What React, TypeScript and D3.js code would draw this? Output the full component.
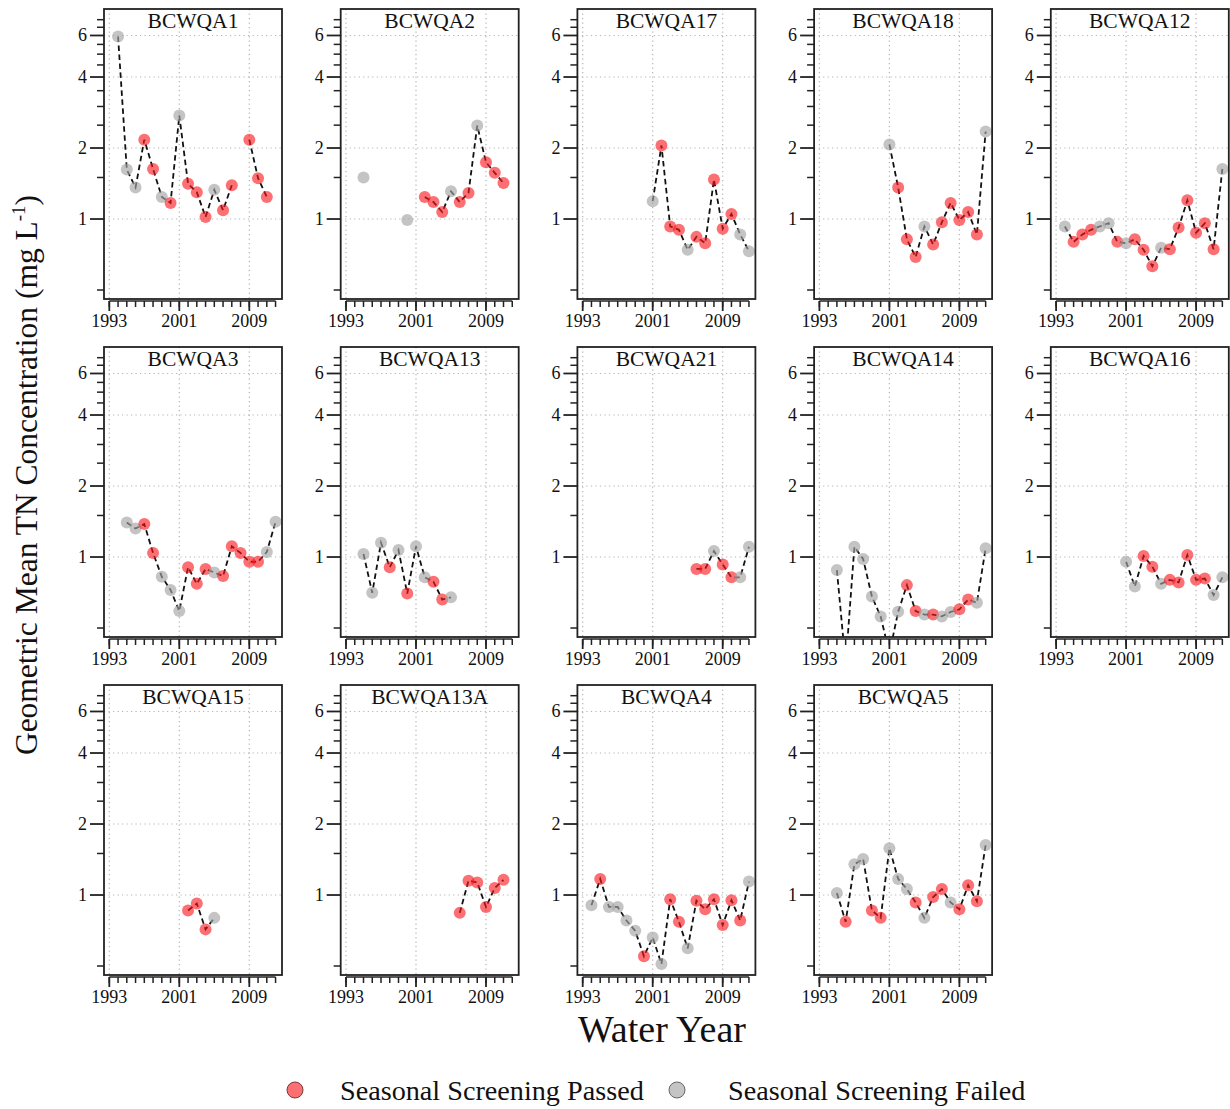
import React from "react";
import * as d3 from "d3";

// ---- data ----
const stations = ["BCWQA1", "BCWQA2", "BCWQA17", "BCWQA18", "BCWQA12", "BCWQA3", "BCWQA13", "BCWQA21", "BCWQA14", "BCWQA16", "BCWQA15", "BCWQA13A", "BCWQA4", "BCWQA5"];
const startYear = [1994, 1995, 2001, 2001, 1994, 1995, 1995, 2006, 1995, 2001, 2002, 2006, 1994, 1995];

const tn_BCWQA1 = [5.94, 1.62, 1.36, 2.17, 1.63, 1.24, 1.17, 2.75, 1.41, 1.30, 1.02, 1.33, 1.09, 1.39, null, 2.17, 1.49, 1.24];
const st_BCWQA1 = "FFFPPFPFPPPFPP-PPP";
const tn_BCWQA2 = [1.50, null, null, null, null, 0.99, null, 1.24, 1.18, 1.07, 1.31, 1.18, 1.29, 2.49, 1.74, 1.57, 1.42];
const st_BCWQA2 = "F----F-PPPFPPFPPP";
const tn_BCWQA17 = [1.19, 2.05, 0.93, 0.90, 0.74, 0.84, 0.79, 1.47, 0.91, 1.05, 0.86, 0.73];
const st_BCWQA17 = "FPPPFPPPPPFF";
const tn_BCWQA18 = [2.07, 1.36, 0.82, 0.69, 0.93, 0.78, 0.97, 1.17, 0.99, 1.07, 0.86, 2.35];
const st_BCWQA18 = "FPPPFPPPPPPF";
const tn_BCWQA12 = [0.93, 0.80, 0.86, 0.90, 0.93, 0.96, 0.80, 0.79, 0.82, 0.74, 0.63, 0.755, 0.745, 0.92, 1.20, 0.875, 0.96, 0.745, 1.63];
const st_BCWQA12 = "FPPPFFPFPPPFPPPPPPF";
const tn_BCWQA3 = [1.40, 1.32, 1.38, 1.04, 0.825, 0.725, 0.59, 0.905, 0.77, 0.89, 0.86, 0.83, 1.11, 1.04, 0.955, 0.955, 1.05, 1.41];
const st_BCWQA3 = "FFPPFFFPPPFPPPPPFF";
const tn_BCWQA13 = [1.03, 0.705, 1.15, 0.905, 1.07, 0.70, 1.11, 0.82, 0.785, 0.66, 0.675];
const st_BCWQA13 = "FFFPFPFFPPF";
const tn_BCWQA21 = [0.89, 0.89, 1.06, 0.93, 0.82, 0.82, 1.105];
const st_BCWQA21 = "PPFPPFF";
const tn_BCWQA14 = [0.88, 0.35, 1.105, 0.98, 0.68, 0.56, 0.39, 0.586, 0.76, 0.59, 0.57, 0.57, 0.56, 0.585, 0.60, 0.66, 0.64, 1.09];
const st_BCWQA14 = "FFFFFFFFPPFPFFPPFF";
const tn_BCWQA16 = [0.955, 0.75, 1.01, 0.91, 0.77, 0.80, 0.78, 1.02, 0.80, 0.81, 0.69, 0.82];
const st_BCWQA16 = "FFPPFPPPPPFF";
const tn_BCWQA15 = [0.86, 0.92, 0.715, 0.80];
const st_BCWQA15 = "PPPF";
const tn_BCWQA13A = [0.84, 1.15, 1.13, 0.89, 1.07, 1.16];
const st_BCWQA13A = "PPPPPP";
const tn_BCWQA4 = [0.905, 1.17, 0.89, 0.89, 0.78, 0.705, 0.55, 0.66, 0.51, 0.96, 0.77, 0.594, 0.946, 0.87, 0.96, 0.746, 0.95, 0.78, 1.14];
const st_BCWQA4 = "FPFFFFPFFPPFPPPPPPF";
const tn_BCWQA5 = [1.02, 0.77, 1.35, 1.42, 0.86, 0.80, 1.58, 1.17, 1.06, 0.93, 0.80, 0.98, 1.06, 0.93, 0.87, 1.10, 0.94, 1.63];
const st_BCWQA5 = "FPFFPPFFFPFPPFPPPF";

const tnSeries = [tn_BCWQA1, tn_BCWQA2, tn_BCWQA17, tn_BCWQA18, tn_BCWQA12, tn_BCWQA3, tn_BCWQA13, tn_BCWQA21, tn_BCWQA14, tn_BCWQA16, tn_BCWQA15, tn_BCWQA13A, tn_BCWQA4, tn_BCWQA5];
const stSeries = [st_BCWQA1, st_BCWQA2, st_BCWQA17, st_BCWQA18, st_BCWQA12, st_BCWQA3, st_BCWQA13, st_BCWQA21, st_BCWQA14, st_BCWQA16, st_BCWQA15, st_BCWQA13A, st_BCWQA4, st_BCWQA5];

const yLabelTicks = [1, 2, 4, 6];
const yMinorTicks = [0.5, 1.5, 2.5, 3, 3.5, 4.5, 5, 5.5, 6.5, 7];
const xLabelTicks = [1993, 2001, 2009];
const xAllTicks = d3.range(1993, 2013);
const legendLabels = ["Seasonal Screening Passed", "Seasonal Screening Failed"];

// ---- layout ----
const W = 1230;
const H = 1109;
const PW = 178;
const PH = 290;
const COL0 = 104;
const COLSTEP = 236.7;
const ROW0 = 9;
const ROWSTEP = 338;
const FONT = "'Liberation Serif', 'Times New Roman', serif";
const RED = "rgba(250,25,30,0.62)";
const GRAY = "rgba(165,165,165,0.65)";

const x = d3.scaleLinear().domain([1992.394, 2012.737]).range([0, PW]);
const y = d3.scaleLog().domain([0.458, 7.77]).range([PH, 0]);

type Pt = { year: number; v: number; pass: boolean };

function Panel({ idx }: { idx: number }) {
  const col = idx % 5;
  const row = Math.floor(idx / 5);
  const left = COL0 + col * COLSTEP;
  const top = ROW0 + row * ROWSTEP;
  const vals = tnSeries[idx];
  const sts = stSeries[idx];
  const pts: (Pt | null)[] = vals.map((v, i) =>
    v == null ? null : { year: startYear[idx] + i, v: v as number, pass: sts[i] === "P" }
  );
  const line = d3
    .line<Pt | null>()
    .defined((d) => d != null)
    .x((d) => x((d as Pt).year))
    .y((d) => y((d as Pt).v));
  const clipId = `clip${idx}`;
  return (
    <g transform={`translate(${left},${top})`}>
      <defs>
        <clipPath id={clipId}>
          <rect x={0} y={0} width={PW} height={PH} />
        </clipPath>
      </defs>
      {xLabelTicks.map((t) => (
        <line key={"gx" + t} x1={x(t)} x2={x(t)} y1={0} y2={PH} stroke="#b4b4b4" strokeWidth={1.2} strokeDasharray="1.2,3.3" />
      ))}
      {yLabelTicks.map((t) => (
        <line key={"gy" + t} x1={0} x2={PW} y1={y(t)} y2={y(t)} stroke="#b4b4b4" strokeWidth={1.2} strokeDasharray="1.2,3.3" />
      ))}
      <g clipPath={`url(#${clipId})`}>
        <path d={line(pts) || ""} fill="none" stroke="#111" strokeWidth={1.8} strokeDasharray="5.5,3.5" />
        {pts.map((p, i) =>
          p ? <circle key={i} cx={x(p.year)} cy={y(p.v)} r={6} fill={p.pass ? RED : GRAY} /> : null
        )}
      </g>
      <rect x={0} y={0} width={PW} height={PH} fill="none" stroke="#222" strokeWidth={1.8} />
      <text x={PW / 2} y={19} textAnchor="middle" fontFamily={FONT} fontSize={21.5} fill="#111">
        {stations[idx]}
      </text>
      {yMinorTicks.map((t) => (
        <line key={"ym" + t} x1={-7} x2={0} y1={y(t)} y2={y(t)} stroke="#222" strokeWidth={1.5} />
      ))}
      {yLabelTicks.map((t) => (
        <g key={"yl" + t}>
          <line x1={-14} x2={0} y1={y(t)} y2={y(t)} stroke="#222" strokeWidth={1.8} />
          <text x={-17} y={y(t) + 6} textAnchor="end" fontFamily={FONT} fontSize={18} fill="#111">
            {t}
          </text>
        </g>
      ))}
      {xAllTicks.map((t) => (
        <line key={"xm" + t} x1={x(t)} x2={x(t)} y1={PH + 2} y2={PH + 8} stroke="#222" strokeWidth={1.5} />
      ))}
      <line x1={x(1993)} x2={x(2012)} y1={PH + 2} y2={PH + 2} stroke="#222" strokeWidth={1.5} />
      {xLabelTicks.map((t) => (
        <g key={"xl" + t}>
          <line x1={x(t)} x2={x(t)} y1={PH + 2} y2={PH + 12} stroke="#222" strokeWidth={1.8} />
          <text x={x(t)} y={PH + 28} textAnchor="middle" fontFamily={FONT} fontSize={18} fill="#111">
            {t}
          </text>
        </g>
      ))}
    </g>
  );
}

export default function App() {
  return (
    <svg width={W} height={H} style={{ position: "absolute", left: 0, top: 0, background: "#fff" }}>
      <rect x={0} y={0} width={W} height={H} fill="#fff" />
      {stations.map((s, i) => (
        <Panel key={s} idx={i} />
      ))}
      <text
        transform={`translate(37,475) rotate(-90)`}
        textAnchor="middle"
        fontFamily={FONT}
        fontSize={31.5}
        fill="#111"
      >
        Geometric Mean TN Concentration (mg L<tspan dy={-12} fontSize={19}>-1</tspan>
        <tspan dy={12}>)</tspan>
      </text>
      <text x={662} y={1042} textAnchor="middle" fontFamily={FONT} fontSize={38} fill="#111">
        Water Year
      </text>
      <circle cx={295} cy={1090} r={8} fill={RED} stroke="#7a3a3a" strokeWidth={1} />
      <text x={340} y={1100} fontFamily={FONT} fontSize={28.2} fill="#111">
        {legendLabels[0]}
      </text>
      <circle cx={677} cy={1090} r={8} fill={GRAY} stroke="#666" strokeWidth={1} />
      <text x={728} y={1100} fontFamily={FONT} fontSize={28.2} fill="#111">
        {legendLabels[1]}
      </text>
    </svg>
  );
}
